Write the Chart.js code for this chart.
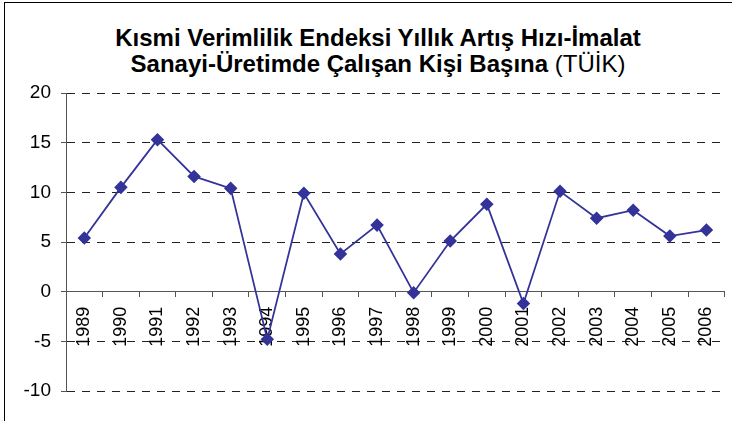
<!DOCTYPE html>
<html>
<head>
<meta charset="utf-8">
<script src="https://cdn.jsdelivr.net/npm/chart.js@4.4.1/dist/chart.umd.min.js"></script>
<style>
  html, body { margin: 0; padding: 0; background: #fff; }
  #wrap { position: relative; width: 732px; height: 421px; overflow: hidden; }
  #frame { position: absolute; left: 4px; top: 2px; width: 760px; height: 460px; border: 1px solid #000; }
  .title { position: absolute; left: 0; width: 756px; text-align: center; font-family: "Liberation Sans", Arial, sans-serif;
           font-size: 24px; font-weight: bold; line-height: 24px; color: #000; white-space: nowrap; }
  .title span { font-weight: normal; }
  canvas { position: absolute; left: 0; top: 0; }
</style>
</head>
<body>
<div id="wrap">
  <div id="frame"></div>
  <div class="title" style="top:26px">Kısmi Verimlilik Endeksi Yıllık Artış Hızı-İmalat</div>
  <div class="title" style="top:52px">Sanayi-Üretimde Çalışan Kişi Başına <span>(TÜİK)</span></div>
  <canvas id="chart" width="732" height="421"></canvas>
</div>
<script>
// years and annual growth rate (%)
let years = ['1989', '1990', '1991', '1992', '1993', '1994', '1995', '1996', '1997',
             '1998', '1999', '2000', '2001', '2002', '2003', '2004', '2005', '2006']
let artisHizi = [5.4, 10.5, 15.3, 11.6, 10.4, -4.8, 9.9, 3.8, 6.7,
                 -0.1, 5.1, 8.8, -1.2, 10.1, 7.4, 8.2, 5.6, 6.2]
let yMin = -10
let yMax = 20
let yStep = 5

const fontFamily = "'Liberation Sans', Arial, sans-serif"

let ctx = document.getElementById('chart').getContext('2d')

const lineChart = new Chart(ctx, {
    type: 'line',
    data: {
        labels: years,
        datasets: [{
            data: artisHizi,
            borderColor: '#333399',
            backgroundColor: '#333399',
            borderWidth: 1.8,
            pointStyle: 'rectRot',
            pointRadius: 5.5,
            pointHoverRadius: 5.5,
            tension: 0
        }]
    },
    options: {
        responsive: false,
        animation: false,
        layout: { padding: { left: 0, top: 93, right: -3, bottom: 30 } },
        plugins: { legend: { display: false }, title: { display: false }, tooltip: { enabled: false } },
        scales: {
            x: {
                position: { y: 0 },
                offset: true,
                // rotated labels would otherwise shrink the plot on the right
                afterFit: s => { s.paddingLeft = 0; s.paddingRight = 0 },
                grid: { offset: true, drawOnChartArea: false, tickLength: 5, color: '#555', tickColor: '#555' },
                border: { color: '#555', width: 1 },
                ticks: { color: '#000', font: { family: fontFamily, size: 18 }, maxRotation: 90, minRotation: 90, padding: 10, autoSkip: false }
            },
            y: {
                min: yMin,
                max: yMax,
                afterFit: s => { s.width = 66 },
                grid: { color: '#222', tickLength: 5, tickColor: '#555', tickBorderDash: [] },
                border: { color: '#555', width: 1, dash: [8, 7] },
                ticks: { stepSize: yStep, color: '#000', font: { family: fontFamily, size: 19 }, padding: 10 }
            }
        }
    }
})
</script>
</body>
</html>
